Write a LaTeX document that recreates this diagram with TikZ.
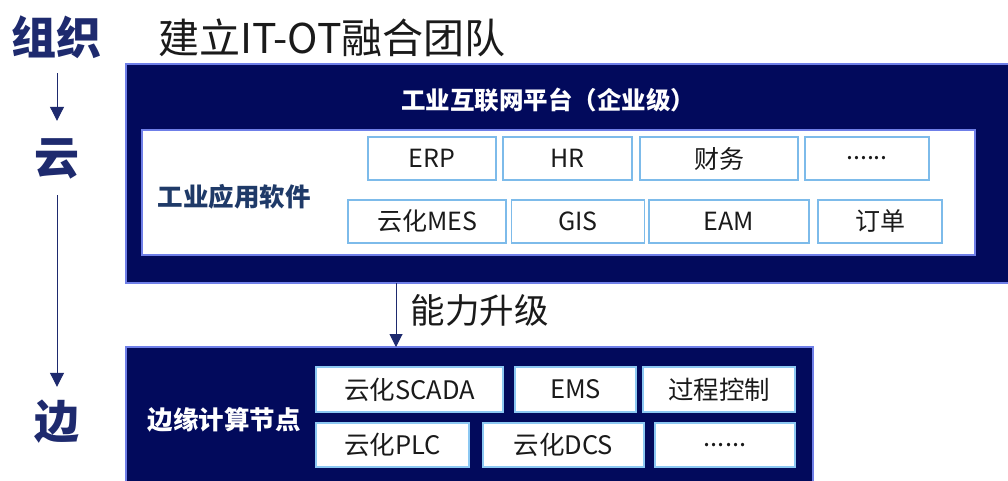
\documentclass[tikz,border=0pt]{standalone}
\usepackage{fontspec}
\setmainfont{Noto Sans CJK SC}
\usetikzlibrary{arrows.meta}
\definecolor{navy}{HTML}{020A5C}
\definecolor{pborder}{HTML}{6F7FE8}
\definecolor{bborder}{HTML}{7DBBEA}
\definecolor{lborder}{HTML}{8CC8F2}
\definecolor{darkt}{HTML}{1E2A6E}
\definecolor{softt}{HTML}{1F3A68}
\definecolor{txt}{HTML}{1A1A1A}
\begin{document}
\begin{tikzpicture}[x=1pt,y=-1pt,
  panel/.style={draw=pborder,fill=navy,line width=1.6pt,inner sep=0pt,outer sep=0pt},
  inner/.style={draw=pborder,fill=white,line width=1.6pt,inner sep=0pt,outer sep=0pt},
  abox/.style={draw=bborder,fill=white,line width=1.4pt,inner sep=0pt,outer sep=0pt,
     minimum height=43pt,font=\fontsize{25}{28}\selectfont,text=txt},
  ebox/.style={draw=lborder,fill=white,line width=2pt,inner sep=0pt,outer sep=0pt,
     font=\fontsize{25.5}{28}\selectfont,text=txt},
  side/.style={font=\bfseries\fontsize{45}{50}\selectfont,text=darkt,inner sep=0pt,
     text height=39pt,text depth=6pt},
  arr/.style={draw=darkt,line width=1pt,-{Triangle[width=14pt,length=14pt]}}
]
\useasboundingbox (0,0) rectangle (1008,480);
\clip (0,0) rectangle (1008,480);
\fill[white] (0,0) rectangle (1008,480);

% left column
\node[side] (zz) at (56,38) {组织};
\node[side] (yun) at (57,158) {云};
\node[side] (bian) at (57,422) {边};
\draw[arr,shorten <=12.5pt,shorten >=14.5pt] (zz.south -| yun.south) -- (yun.north);
\draw[arr,shorten <=14.5pt,shorten >=12.5pt] (yun.south) -- (bian.north);

% title
\node[font=\fontsize{41}{46}\selectfont,text=txt,anchor=west,inner sep=0pt] (title) at (158,38) {建立IT-OT融合团队};

% cloud platform
\node[panel,minimum width=886pt,minimum height=219pt] (cloud) at (569,173.5) {};
\node[font=\bfseries\fontsize{24.5}{28}\selectfont,text=white] (hdr) at (548,100) {工业互联网平台（企业级）};
\node[inner,minimum width=833pt,minimum height=125pt] (apps) at (558.5,192.5) {};
\node[font=\bfseries\fontsize{25.5}{28}\selectfont,text=softt] (appl) at (234,197) {工业应用软件};

\node[abox,minimum width=128pt] (erp) at (432,158.5) {ERP};
\node[abox,minimum width=129pt] (hr) at (567.5,158.5) {HR};
\node[abox,minimum width=158pt] (cw) at (719,158.5) {财务};
\node[abox,minimum width=124pt] (d1) at (867,158.5) {......};
\node[abox,minimum width=158pt] (mes) at (427,221.5) {云化MES};
\node[abox,minimum width=133pt] (gis) at (578,221.5) {GIS};
\node[abox,minimum width=160pt] (eam) at (729,221.5) {EAM};
\node[abox,minimum width=124pt] (dd) at (880,221.5) {订单};

% edge
\node[panel,minimum width=687pt,minimum height=140pt] (edge) at (469.5,417) {};
\draw[arr,-{Triangle[width=13pt,length=13pt]}] ([xshift=270pt]cloud.south west) -- ([xshift=270pt]edge.north west)
  node[midway,right=14pt,font=\fontsize{34.5}{38}\selectfont,text=txt,inner sep=0pt,yshift=5pt] (nl) {能力升级};
\node[font=\bfseries\fontsize{25.5}{28}\selectfont,text=white] (edl) at (224,420) {边缘计算节点};

\node[ebox,minimum width=187pt,minimum height=45pt] (scada) at (409.5,389.5) {云化SCADA};
\node[ebox,minimum width=121pt,minimum height=45pt] (ems) at (575.5,389.5) {EMS};
\node[ebox,minimum width=152pt,minimum height=45pt] (gc) at (719,389.5) {过程控制};
\node[ebox,minimum width=153pt,minimum height=44pt] (plc) at (392.5,445) {云化PLC};
\node[ebox,minimum width=161pt,minimum height=44pt] (dcs) at (563.5,445) {云化DCS};
\node[ebox,minimum width=140pt,minimum height=44pt] (d2) at (725,445) {......};
\end{tikzpicture}
\end{document}
